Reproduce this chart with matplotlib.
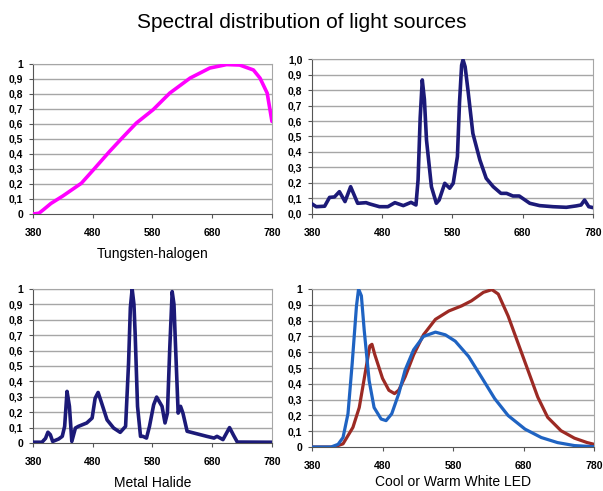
import matplotlib
matplotlib.use("Agg")
import matplotlib.pyplot as plt
from matplotlib.ticker import FixedLocator, FixedFormatter

plt.rcParams['font.family'] = ['Liberation Sans', 'DejaVu Sans']

# Tungsten-halogen
th_x = [380, 390, 397, 410, 430, 461, 481, 508, 530, 553, 581, 609, 643, 676, 704, 726, 749, 760, 772, 780]
th_y = [0.0, 0.005, 0.027, 0.07, 0.12, 0.205, 0.294, 0.416, 0.51, 0.606, 0.695, 0.806, 0.906, 0.973, 0.996, 0.993, 0.96, 0.906, 0.806, 0.617]

# Fluorescent (top right)
fl_x = [380, 386, 398, 405, 412, 419, 427, 435, 438, 445, 457, 462, 476, 488, 498, 510, 521, 528, 531, 534, 537,
        540, 543, 550, 557, 561, 569, 576, 581, 587, 590, 593, 595, 598, 602, 609, 619, 628, 638, 649, 657,
        666, 675, 690, 704, 723, 742, 756, 763, 768, 774, 780]
fl_y = [0.065, 0.047, 0.05, 0.107, 0.11, 0.144, 0.08, 0.176, 0.144, 0.069, 0.073, 0.065, 0.047, 0.047, 0.073,
        0.054, 0.075, 0.058, 0.22, 0.62, 0.865, 0.74, 0.477, 0.176, 0.069, 0.09, 0.198, 0.166, 0.198, 0.37,
        0.72, 0.96, 0.995, 0.95, 0.80, 0.52, 0.348, 0.23, 0.176, 0.133, 0.133, 0.116, 0.116, 0.069, 0.054,
        0.047, 0.043, 0.052, 0.058, 0.09, 0.047, 0.041]

# Metal halide
mh_x = [380, 395, 401, 405, 409, 413, 423, 429, 433, 437, 441, 445, 451, 456, 470, 479, 484, 489, 494, 504,
        515, 526, 535, 540, 543, 546, 549, 551, 555, 560, 564, 570, 575, 582, 587, 596, 601, 605, 609, 613,
        616, 618, 623, 627, 631, 638, 649, 660, 671, 683, 688, 698, 709, 716, 722, 772, 780]
mh_y = [0.005, 0.005, 0.03, 0.07, 0.054, 0.01, 0.026, 0.043, 0.108, 0.335, 0.238, 0.01, 0.097, 0.108, 0.13,
        0.162, 0.29, 0.328, 0.27, 0.15, 0.097, 0.069, 0.108, 0.52, 0.88, 1.0, 0.9, 0.71, 0.238, 0.043, 0.043,
        0.032, 0.108, 0.248, 0.298, 0.238, 0.13, 0.194, 0.62, 0.983, 0.9, 0.69, 0.194, 0.238, 0.194, 0.076,
        0.065, 0.054, 0.043, 0.032, 0.043, 0.022, 0.1, 0.048, 0.006, 0.005, 0.005]

# Cool white LED
cool_x = [380, 407, 417, 424, 431, 437, 443, 446, 450, 454, 461, 468, 478, 485, 493, 503, 512, 524, 538, 555,
          569, 583, 602, 620, 639, 658, 682, 705, 728, 752, 780]
cool_y = [0.0, 0.0, 0.017, 0.06, 0.21, 0.53, 0.89, 1.0, 0.957, 0.74, 0.42, 0.25, 0.177, 0.167, 0.21, 0.338,
          0.487, 0.615, 0.70, 0.727, 0.71, 0.67, 0.573, 0.444, 0.306, 0.199, 0.113, 0.06, 0.028, 0.009, 0.002]

# Warm white LED
warm_x = [380, 411, 424, 438, 447, 457, 462, 465, 469, 480, 489, 497, 503, 512, 524, 538, 555, 574, 592, 606,
          623, 635, 644, 658, 672, 686, 700, 714, 733, 752, 770, 780]
warm_y = [0.0, 0.0, 0.02, 0.124, 0.25, 0.51, 0.64, 0.65, 0.585, 0.434, 0.359, 0.338, 0.36, 0.444, 0.583, 0.71,
          0.808, 0.861, 0.893, 0.925, 0.979, 0.996, 0.968, 0.829, 0.658, 0.487, 0.316, 0.188, 0.103, 0.056,
          0.028, 0.017]

x_ticks = [380, 480, 580, 680, 780]
y_ticks = [i / 10 for i in range(11)]
y_labels_a = ['0', '0,1', '0,2', '0,3', '0,4', '0,5', '0,6', '0,7', '0,8', '0,9', '1']
y_labels_b = ['0,0', '0,1', '0,2', '0,3', '0,4', '0,5', '0,6', '0,7', '0,8', '0,9', '1,0']

fig = plt.figure(figsize=(6.03, 4.91), dpi=100)


def make_axes(rect, ylabels):
    ax = fig.add_axes(rect)
    ax.set_xlim(380, 780)
    ax.set_ylim(0, 1)
    ax.xaxis.set_major_locator(FixedLocator(x_ticks))
    ax.yaxis.set_major_locator(FixedLocator(y_ticks))
    ax.yaxis.set_major_formatter(FixedFormatter(ylabels))
    for y in y_ticks[1:]:
        ax.axhline(y, color='#a6a6a6', lw=1.0, zorder=1)
    for s in ['top', 'right']:
        ax.spines[s].set_color('#a6a6a6')
    for s in ['left', 'bottom']:
        ax.spines[s].set_color('#555555')
    ax.tick_params(direction='out', length=3, width=0.8, color='#555555',
                   labelsize=7.5, pad=4)
    for lab in ax.get_xticklabels() + ax.get_yticklabels():
        lab.set_fontweight('bold')
    ax.tick_params(axis='x', pad=7)
    return ax


line_kw = dict(solid_joinstyle='round', solid_capstyle='round')

ax1 = make_axes([0.0547, 0.5642, 0.3963, 0.3055], y_labels_a)
ax1.plot(th_x, th_y, color='#ff00ff', lw=2.6, zorder=3, **line_kw)
ax1.text(0.5, -0.27, 'Tungsten-halogen', transform=ax1.transAxes, ha='center', va='center', fontsize=10)

ax2 = make_axes([0.5174, 0.5642, 0.466, 0.3156], y_labels_b)
ax2.plot(fl_x, fl_y, color='#1c1a78', lw=2.6, zorder=3, **line_kw)

ax3 = make_axes([0.0547, 0.0978, 0.3963, 0.3136], y_labels_a)
ax3.plot(mh_x, mh_y, color='#1c1a78', lw=2.6, zorder=3, **line_kw)
ax3.text(0.5, -0.26, 'Metal Halide', transform=ax3.transAxes, ha='center', va='center', fontsize=10)

ax4 = make_axes([0.5174, 0.0896, 0.468, 0.3218], y_labels_a)
ax4.plot(warm_x, warm_y, color='#9c2a24', lw=2.3, zorder=3, **line_kw)
ax4.plot(cool_x, cool_y, color='#1f63c2', lw=2.3, zorder=4, **line_kw)
ax4.text(0.5, -0.22, 'Cool or Warm White LED', transform=ax4.transAxes, ha='center', va='center', fontsize=10)

fig.text(0.5, 0.955, 'Spectral distribution of light sources', ha='center', va='center', fontsize=15)

fig.savefig('out.png', dpi=100)
